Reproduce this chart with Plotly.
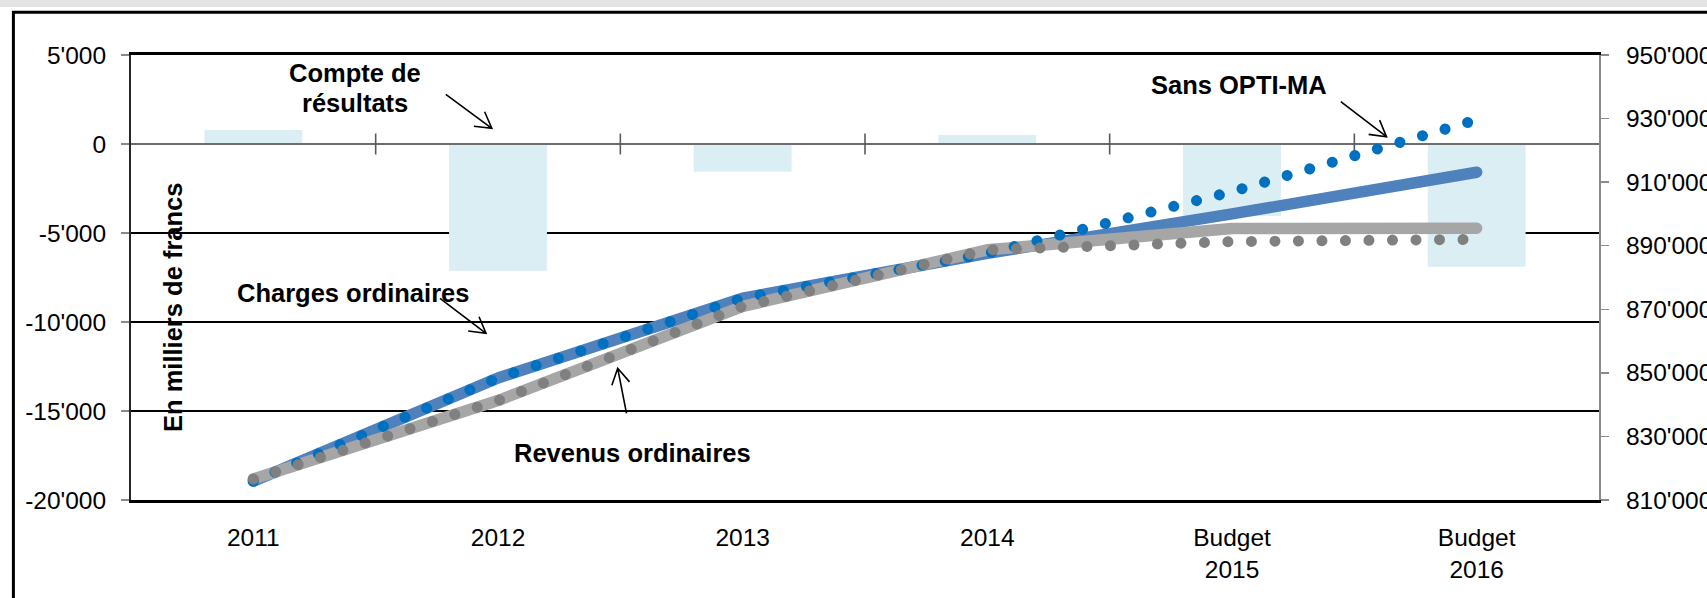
import math
import plotly.graph_objects as go

# Catégories (axe X) et séries, en milliers de francs
categories = ["2011", "2012", "2013", "2014", "Budget<br>2015", "Budget<br>2016"]
compte_resultats = [790, -7120, -1560, 500, -4050, -6900]          # axe gauche (barres)
charges_ordinaires = [815900, 848400, 873500, 887600, 900000, 913100]  # axe droit
revenus_ordinaires = [816600, 841300, 870900, 888700, 895400, 895500]
charges_sans_optima = [815900, 848400, 873500, 887600, 907000, 929600]
revenus_sans_optima = [816600, 841300, 870900, 888700, 891300, 892000]

left_ticks = list(range(-20000, 5001, 5000))
right_ticks = list(range(810000, 950001, 20000))


def swiss(v):
    return f"{v:,}".replace(",", "'")


W, H = 1707, 598
ML, MR, MT, MB = 131, 108, 55, 98
PW = W - ML - MR
PH = H - MT - MB


def px(x):
    return (x - ML) / PW


def py(y):
    return (MT + PH - y) / PH


FONT = "Liberation Sans, Arial, sans-serif"
xs = list(range(len(categories)))
bounds = [i + 0.5 for i in range(len(categories) - 1)]

fig = go.Figure()

# Compte de résultats (barres, axe gauche)
fig.add_bar(x=xs, y=compte_resultats, width=0.4, yaxis="y",
            marker=dict(color="#DBEEF4", line=dict(width=0)), hoverinfo="skip")

# Axe des catégories à zéro, avec graduations croisées entre catégories
fig.add_scatter(x=[-0.5, len(categories) - 0.5], y=[0, 0], yaxis="y", mode="lines",
                line=dict(color="#6e6e6e", width=1.8), hoverinfo="skip")
fig.add_scatter(x=bounds, y=[0] * len(bounds), yaxis="y", mode="markers",
                marker=dict(symbol="line-ns", size=15, color="#5a5a5a",
                            line=dict(width=1.6, color="#5a5a5a")), hoverinfo="skip")

# Charges et revenus (axe droit)
fig.add_scatter(x=xs, y=charges_ordinaires, yaxis="y2", mode="lines",
                line=dict(color="#4F81BD", width=11.5), hoverinfo="skip")
fig.add_scatter(x=xs, y=revenus_ordinaires, yaxis="y2", mode="lines",
                line=dict(color="#A6A6A6", width=11.5), hoverinfo="skip")
fig.add_scatter(x=xs, y=charges_sans_optima, yaxis="y2", mode="lines",
                line=dict(color="#0070C0", width=11, dash="0.01px,23.5px"), hoverinfo="skip")
fig.add_scatter(x=xs, y=revenus_sans_optima, yaxis="y2", mode="lines",
                line=dict(color="#808080", width=11, dash="0.01px,23.5px"), hoverinfo="skip")

tickfont = dict(family=FONT, size=24.5, color="black")

# Libellés
labels = [
    ("Compte de", 354.5, 72.7),
    ("résultats", 354.5, 103.0),
    ("Charges ordinaires", 353.0, 292.7),
    ("Revenus ordinaires", 632.0, 452.7),
    ("Sans OPTI-MA", 1239.0, 85.0),
]
annotations = []
for text, x, y in labels:
    annotations.append(dict(text=f"<b>{text}</b>", x=px(x), y=py(y), xref="paper", yref="paper",
                            xanchor="center", yanchor="middle", showarrow=False,
                            font=dict(family=FONT, size=25.5, color="black")))
annotations.append(dict(text="<b>En milliers de francs</b>", x=px(173), y=py(308),
                        xref="paper", yref="paper", xanchor="center", yanchor="middle",
                        textangle=-90, showarrow=False,
                        font=dict(family=FONT, size=25.5, color="black")))

# Flèches à pointe ouverte
arrows = [
    ((445.8, 94.3), (491.8, 128.3)),
    ((440.0, 298.3), (486.0, 333.3)),
    ((626.5, 413.3), (617.7, 368.3)),
    ((1340.8, 101.7), (1386.5, 136.7)),
]
shapes = []
LEG, ANG = 18.0, math.radians(30)
for (tx, ty), (hx, hy) in arrows:
    dx, dy = hx - tx, hy - ty
    n = math.hypot(dx, dy)
    bx, by = -dx / n, -dy / n
    legs = []
    for s in (1, -1):
        c, si = math.cos(s * ANG), math.sin(s * ANG)
        legs.append((hx + LEG * (bx * c - by * si), hy + LEG * (bx * si + by * c)))
    path = (f"M {px(tx)},{py(ty)} L {px(hx)},{py(hy)} "
            f"M {px(legs[0][0])},{py(legs[0][1])} L {px(hx)},{py(hy)} L {px(legs[1][0])},{py(legs[1][1])}")
    shapes.append(dict(type="path", path=path, xref="paper", yref="paper",
                       line=dict(color="black", width=1.6)))

# Bandeau gris et cadre
shapes.append(dict(type="rect", xref="paper", yref="paper", x0=px(0), x1=px(W), y0=py(0), y1=py(7),
                   fillcolor="#e3e3e3", line=dict(width=0), layer="below"))
shapes.append(dict(type="rect", xref="paper", yref="paper", x0=px(13.4), x1=px(W + 20),
                   y0=py(12.3), y1=py(H + 20), fillcolor="rgba(0,0,0,0)",
                   line=dict(color="black", width=3)))

fig.update_layout(
    width=W, height=H,
    margin=dict(l=ML, r=MR, t=MT, b=MB, pad=0, autoexpand=False),
    paper_bgcolor="white", plot_bgcolor="white",
    showlegend=False,
    font=dict(family=FONT, color="black"),
    xaxis=dict(range=[-0.5, len(categories) - 0.5], tickmode="array", tickvals=xs,
               ticktext=categories, ticks="", showgrid=False, zeroline=False,
               showline=True, mirror=True, linecolor="black", linewidth=3,
               tickfont=tickfont, ticklabelstandoff=14, fixedrange=True, automargin=False),
    yaxis=dict(range=[-20000, 5000], tickmode="array", tickvals=left_ticks,
               ticktext=[swiss(v) for v in left_ticks], showgrid=True, gridcolor="black",
               gridwidth=2.5, zeroline=True, zerolinecolor="#6e6e6e", zerolinewidth=1.8,
               showline=True, linecolor="#262626", linewidth=2, ticks="outside", ticklen=8,
               tickwidth=1.5, tickcolor="#8a8a8a", tickfont=tickfont, ticklabelstandoff=10,
               fixedrange=True, automargin=False),
    yaxis2=dict(overlaying="y", side="right", range=[810000, 950000], tickmode="array",
                tickvals=right_ticks, ticktext=[swiss(v) for v in right_ticks],
                showgrid=False, zeroline=False, showline=True, linecolor="#8a8a8a",
                linewidth=2, ticks="outside", ticklen=8, tickwidth=1.5, tickcolor="#8a8a8a",
                tickfont=tickfont, ticklabelstandoff=12, fixedrange=True, automargin=False),
    annotations=annotations,
    shapes=shapes,
)

post = ("var s=document.createElement('style');"
        "s.textContent='.js-line{stroke-linecap:round;stroke-linejoin:round;} body{margin:0;}';"
        "document.head.appendChild(s);")
fig.write_html("out.html", post_script=post, config={"displayModeBar": False, "staticPlot": True})
